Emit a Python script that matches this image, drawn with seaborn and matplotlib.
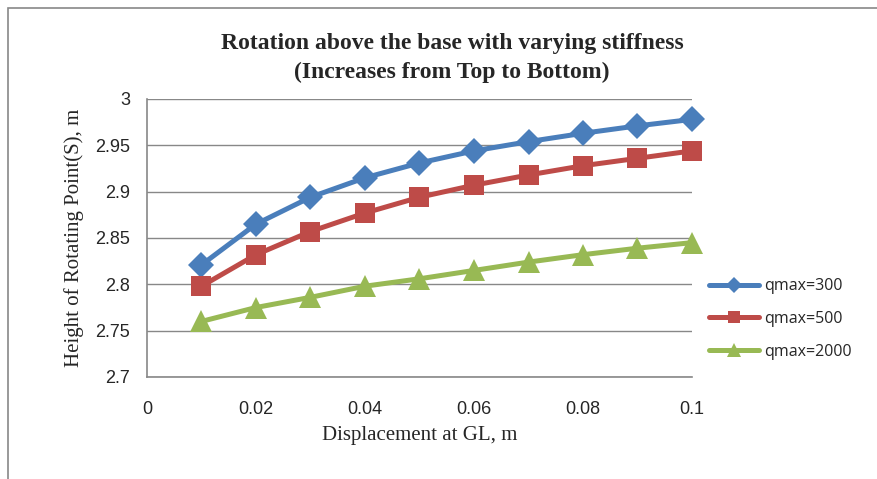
import numpy as np
import pandas as pd
import matplotlib
matplotlib.use("Agg")
import matplotlib.pyplot as plt
import seaborn as sns
from matplotlib.patches import Rectangle
from matplotlib.lines import Line2D

displacement = [0.01, 0.02, 0.03, 0.04, 0.05, 0.06, 0.07, 0.08, 0.09, 0.10]
q300 = [2.821, 2.865, 2.894, 2.915, 2.931, 2.944, 2.954, 2.963, 2.971, 2.978]
q500 = [2.798, 2.832, 2.857, 2.877, 2.894, 2.907, 2.918, 2.928, 2.936, 2.944]
q2000 = [2.760, 2.775, 2.786, 2.798, 2.806, 2.815, 2.824, 2.832, 2.839, 2.845]
series_names = ["qmax=300", "qmax=500", "qmax=2000"]
x_ticks = [0, 0.02, 0.04, 0.06, 0.08, 0.1]
x_tick_labels = ["0", "0.02", "0.04", "0.06", "0.08", "0.1"]
y_ticks = [2.7, 2.75, 2.8, 2.85, 2.9, 2.95, 3.0]
y_tick_labels = ["2.7", "2.75", "2.8", "2.85", "2.9", "2.95", "3"]

df = pd.concat([
    pd.DataFrame({"x": displacement, "y": vals, "series": name})
    for name, vals in zip(series_names, [q300, q500, q2000])
])

sns.set_theme(style="white")
plt.rcParams["font.family"] = ["Liberation Sans", "DejaVu Sans"]

fig = plt.figure(figsize=(8.78, 4.79), dpi=100)
ax = fig.add_axes([147/878, 1-377/479, (692-147)/878, (377-99)/479])

palette = {"qmax=300": "#4a7ebb", "qmax=500": "#be4b48", "qmax=2000": "#98b954"}
markers = {"qmax=300": "D", "qmax=500": "s", "qmax=2000": "^"}
sizes_m = {"qmax=300": 13, "qmax=500": 14, "qmax=2000": 16}

sns.lineplot(data=df, x="x", y="y", hue="series", style="series",
             palette=palette, markers=markers, dashes=False,
             linewidth=3.6, markersize=12, markeredgewidth=0, ax=ax, legend=False)
for line, name in zip(ax.lines, series_names):
    line.set_markersize(sizes_m[name])
    line.set_clip_on(False)
    line.set_solid_capstyle("round")

ax.set_xlim(0, 0.1)
ax.set_ylim(2.7, 3.0)
ax.set_xticks(x_ticks)
ax.set_xticklabels(x_tick_labels, fontsize=13)
ax.set_yticks(y_ticks)
ax.set_yticklabels(y_tick_labels, fontsize=13)
ax.tick_params(axis="x", length=0, pad=17)
ax.tick_params(axis="y", length=0, pad=12)
ax.yaxis.grid(True, color="#888888", linewidth=1)
ax.xaxis.grid(False)
ax.set_axisbelow(True)
for s in ["top", "right"]:
    ax.spines[s].set_visible(False)
for s in ["left", "bottom"]:
    ax.spines[s].set_color("#888888")
    ax.spines[s].set_linewidth(1.2)

ax.set_xlabel("Displacement at GL, m", family="Liberation Serif", fontsize=15, labelpad=6)
ax.set_ylabel("Height of Rotating Point(S), m", family="Liberation Serif", fontsize=15, labelpad=8)

fig.text(452/878, 1-58/479, "Rotation above the base with varying stiffness\n(Increases from Top to Bottom)",
         ha="center", va="center", family="Liberation Serif", fontweight="bold", fontsize=17, linespacing=1.5)

handles = [Line2D([0], [0], color=palette[n], marker=markers[n], linewidth=3.6,
                  markersize=sizes_m[n]*0.6, markeredgewidth=0, solid_capstyle="round") for n in series_names]
fig.legend(handles, series_names, loc="center left", bbox_to_anchor=(695/878, 1-319/479),
           frameon=False, handlelength=3.1, labelspacing=1.05,
           prop={"family": "Open Sans", "size": 11.5}, handletextpad=0.35)

fig.patches.append(Rectangle((8/878, -0.1), 1.5, 1.1 - 8/479, transform=fig.transFigure,
                             fill=False, edgecolor="#888888", linewidth=1.2))

fig.savefig("out.png", dpi=100)
